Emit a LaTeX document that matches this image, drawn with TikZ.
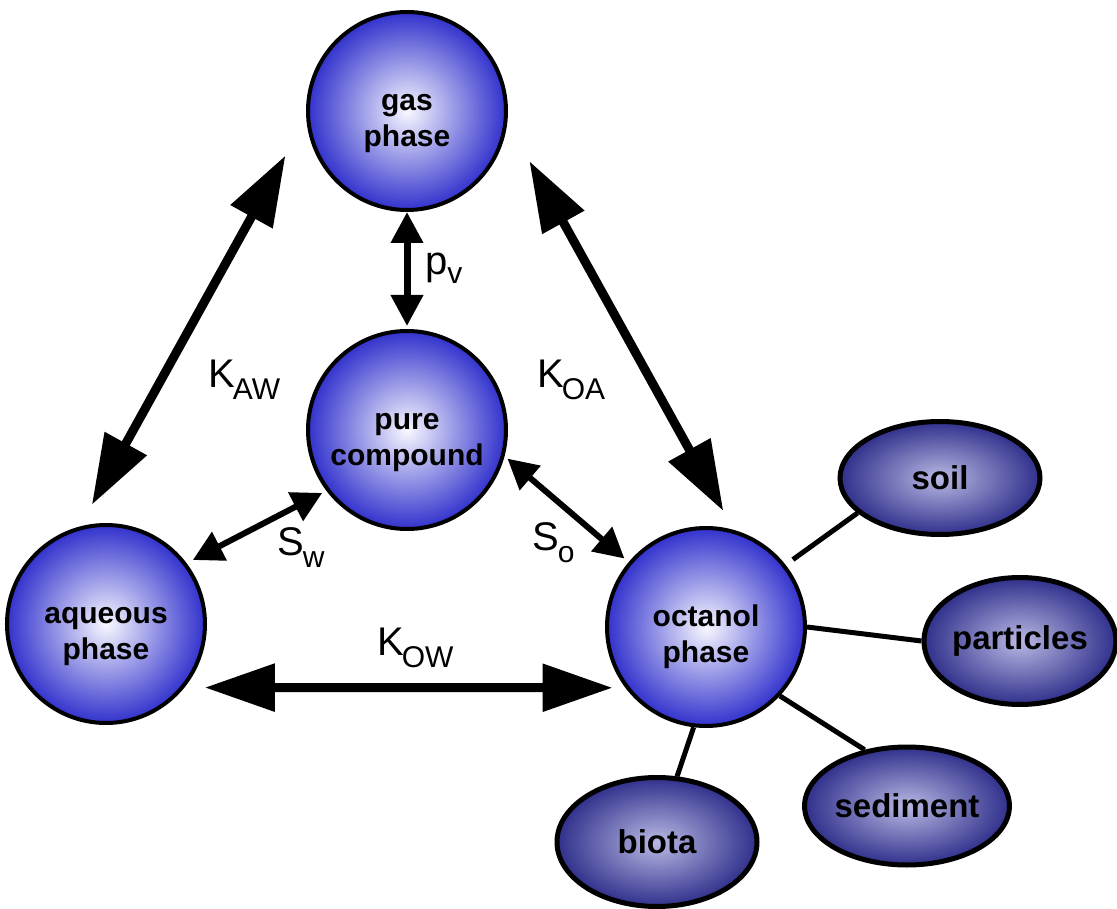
\documentclass[tikz,border=0pt]{standalone}
\usepackage{fontspec}
\setmainfont{Liberation Sans}
\usetikzlibrary{shapes.geometric,arrows.meta}
\definecolor{ballin}{RGB}{248,248,255}
\definecolor{ballout}{RGB}{50,50,205}
\definecolor{ellin}{RGB}{185,185,228}
\definecolor{ellout}{RGB}{48,48,140}
\newcommand{\phasetext}[2]{\raisebox{-10pt}[\height][\depth]{\begin{tabular}{@{}c@{}}#1\\#2\end{tabular}}}
\begin{document}
\begin{tikzpicture}[x=1pt,y=-1pt,
  phase/.style={circle, draw=black, line width=4pt, minimum size=198pt, inner sep=0pt, outer sep=2pt,
    shade, shading=radial, inner color=ballin, outer color=ballout,
    font=\fontsize{30}{36}\selectfont\bfseries},
  medium/.style={ellipse, draw=black, line width=5pt, inner sep=0pt, outer sep=2.5pt,
    shade, shading=radial, inner color=ellin, outer color=ellout,
    font=\fontsize{33}{40}\selectfont\bfseries},
  bigarrow/.style={line width=9pt, {Triangle[length=70pt,width=46pt]}-{Triangle[length=70pt,width=46pt]}},
  midarrow/.style={line width=7pt, {Triangle[length=31pt,width=31pt]}-{Triangle[length=31pt,width=31pt]}},
  smallarrow/.style={line width=6pt, {Triangle[length=30pt,width=31pt]}-{Triangle[length=30pt,width=31pt]}},
  link/.style={line width=5pt},
  lbl/.style={inner sep=0pt, anchor=base west, font=\fontsize{40}{48}\selectfont}
]
\useasboundingbox (0,0) rectangle (1117,909);

% phases
\node[phase] (gas) at (407,111) {\phasetext{gas}{phase}};
\node[phase] (pure) at (407,430) {\phasetext{pure}{compound}};
\node[phase] (aq) at (106,624) {\phasetext{aqueous}{phase}};
\node[phase] (oct) at (706,627) {\phasetext{octanol}{phase}};

% environmental media
\node[medium, minimum width=200pt, minimum height=113pt] (soil) at (940,478) {soil};
\node[medium, minimum width=191pt, minimum height=127pt] (part) at (1020,641) {particles};
\node[medium, minimum width=200pt, minimum height=118pt] (sed) at (907,806) {sediment};
\node[medium, minimum width=200pt, minimum height=129pt] (biota) at (657,842) {biota};

% links
\draw[link, shorten <=9pt] (oct.38.7) -- (soil.203);
\draw[link] (oct.0) -- (part.180);
\draw[link] (oct.-43) -- (sed.127);
\draw[link] (oct.-97) -- (biota.73);

% partition arrows
\draw[bigarrow, shorten <=24.8pt, shorten >=42.9pt] (aq.105.4) -- (gas.184.4);
\draw[bigarrow, shorten <=45.3pt, shorten >=21.6pt] (gas.-6.1) -- (oct.74.2);
\draw[bigarrow, shorten <=20.3pt, shorten >=12.8pt] (aq.-39) -- (oct.-143.5);
\draw[midarrow, shorten <=0pt, shorten >=3pt] (gas.-90) -- (pure.90);
\draw[smallarrow, shorten <=7pt, shorten >=4.7pt] (aq.37.9) -- (pure.217.9);
\draw[smallarrow, shorten <=3.8pt, shorten >=5.5pt] (pure.-15.6) -- (oct.140.4);

% labels
\node[lbl] (kaw) at (208,388) {K\kern-2pt\raisebox{-12pt}{\fontsize{30}{30}\selectfont AW}};
\node[lbl] (koa) at (537,388) {K\kern-2pt\raisebox{-12pt}{\fontsize{30}{30}\selectfont OA}};
\node[lbl] (kow) at (377,655) {K\kern-2pt\raisebox{-12pt}{\fontsize{30}{30}\selectfont OW}};
\node[lbl] (pv) at (425,275) {p\raisebox{-9pt}{\fontsize{30}{30}\selectfont v}};
\node[lbl] (sw) at (277,555) {S\kern-1pt\raisebox{-12pt}{\fontsize{30}{30}\selectfont w}};
\node[lbl] (so) at (532,550) {S\kern-1pt\raisebox{-12pt}{\fontsize{30}{30}\selectfont o}};
\end{tikzpicture}
\end{document}
